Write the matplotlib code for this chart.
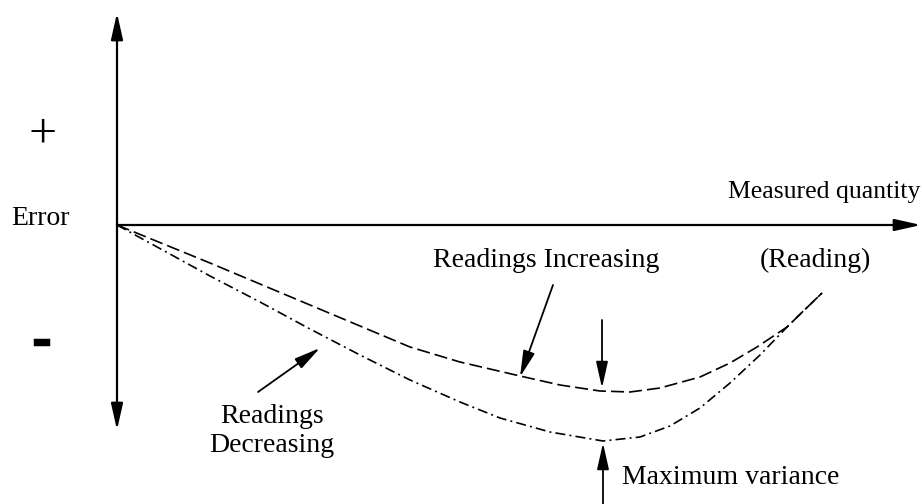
import matplotlib
matplotlib.use("Agg")
import matplotlib.pyplot as plt
import matplotlib.patheffects as pe

plt.rcParams['font.family'] = ['Liberation Serif', 'DejaVu Serif']
plt.rcParams['lines.scale_dashes'] = False

# measured quantity (reading) vs error
qty_inc = [0, 93, 143, 193, 243, 293, 343, 403, 443, 483, 513, 543, 583, 613, 640, 670, 705]
err_inc = [0, -38, -59, -80, -101, -122, -137, -151, -160, -166, -167, -163, -152, -138, -122, -102, -68]

qty_dec = [0, 93, 143, 193, 243, 293, 343, 383, 433, 486, 523, 553, 583, 613, 643, 673, 705]
err_dec = [0, -51, -77, -104, -130, -155, -177, -193, -207, -216, -212, -201, -183, -158, -130, -99, -68]

fig = plt.figure(figsize=(9.21, 5.04), dpi=100)
ax = fig.add_axes([0, 0, 1, 1])
ax.set_xlim(-117, 804)
ax.set_ylim(-279, 225)
ax.axis('off')

ax.plot(qty_inc, err_inc, color='black', lw=1.2, dashes=(9.4, 3.6))
ax.plot(qty_dec, err_dec, color='black', lw=1.2, dashes=(7.2, 3, 1.4, 3))

def arrow(tail, tip, style='-|>', lw=1.3):
    ax.annotate('', xy=tip, xytext=tail, annotation_clip=False,
                arrowprops=dict(arrowstyle=style + ',head_length=0.8,head_width=0.18',
                                mutation_scale=20, color='black', lw=lw,
                                shrinkA=0, shrinkB=0))

# axes
arrow((0, -205), (0, 212), style='<|-|>', lw=1.6)
arrow((0, 0), (804, 0), lw=1.6)

# pointers
arrow((436, -60), (403, -152))
arrow((485, -95), (485, -163))
arrow((141, -167), (203, -123))
arrow((486, -279), (486, -218))

fs = 20
ax.text(-74, 90, '+', fontsize=36, ha='center', va='center')
ax.text(-77, 7, 'Error', fontsize=fs, ha='center', va='center')
ax.text(-75, -117, '-', fontsize=36, fontweight='bold', ha='center', va='center',
        path_effects=[pe.withStroke(linewidth=2.5, foreground='black',
                                    capstyle='butt', joinstyle='miter')])
ax.text(803, 33, 'Measured quantity', fontsize=18.5, ha='right', va='center')
ax.text(698, -35, '(Reading)', fontsize=fs, ha='center', va='center')
ax.text(429, -35, 'Readings Increasing', fontsize=fs, ha='center', va='center')
ax.text(155, -206, 'Readings\nDecreasing', fontsize=fs, ha='center', va='center',
        linespacing=1.2)
ax.text(505, -252, 'Maximum variance', fontsize=fs, ha='left', va='center')

fig.savefig('out.png', dpi=100)
